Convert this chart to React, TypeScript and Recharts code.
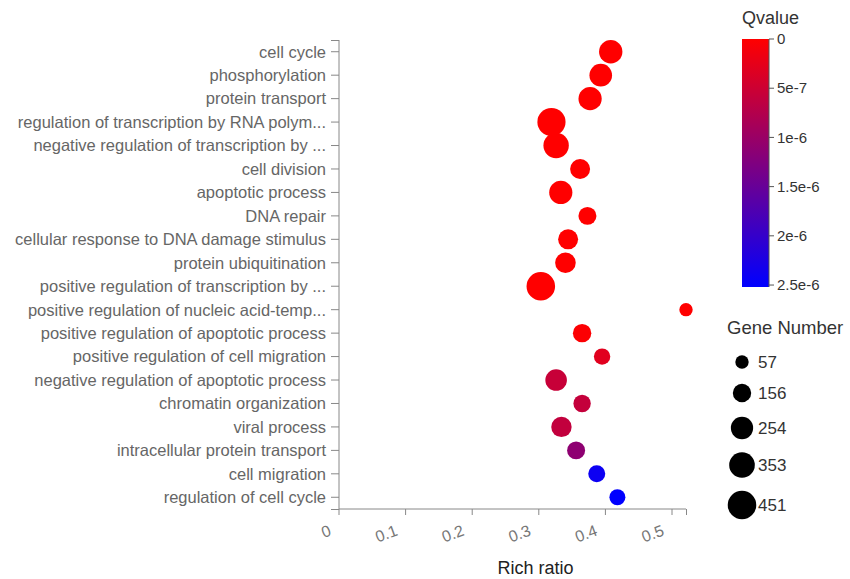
import React from 'react';
import { ScatterChart, Scatter, XAxis, YAxis, ZAxis, Cell } from 'recharts';

// GO terms, top to bottom as drawn
const terms = [
  'cell cycle',
  'phosphorylation',
  'protein transport',
  'regulation of transcription by RNA polym...',
  'negative regulation of transcription by ...',
  'cell division',
  'apoptotic process',
  'DNA repair',
  'cellular response to DNA damage stimulus',
  'protein ubiquitination',
  'positive regulation of transcription by ...',
  'positive regulation of nucleic acid-temp...',
  'positive regulation of apoptotic process',
  'positive regulation of cell migration',
  'negative regulation of apoptotic process',
  'chromatin organization',
  'viral process',
  'intracellular protein transport',
  'cell migration',
  'regulation of cell cycle',
];

const richRatio = [
  0.408, 0.393, 0.377, 0.319, 0.326, 0.362, 0.333, 0.373, 0.344, 0.34,
  0.303, 0.521, 0.365, 0.395, 0.326, 0.365, 0.334, 0.356, 0.387, 0.418,
];

const geneNumber = [
  285, 263, 281, 438, 346, 194, 280, 147, 194, 209,
  451, 57, 156, 113, 235, 134, 204, 147, 125, 105,
];

const qValue = [
  0, 0, 0, 0, 0, 0, 0, 0, 0, 0,
  0, 0, 0.03e-6, 0.3e-6, 0.55e-6, 0.58e-6, 0.6e-6, 1.12e-6, 2.4e-6, 2.52e-6,
];

const xTicks = [0, 0.1, 0.2, 0.3, 0.4, 0.5];
const qTicks = [0, 5e-7, 1e-6, 1.5e-6, 2e-6, 2.5e-6];
const qTickLabels = ['0', '5e-7', '1e-6', '1.5e-6', '2e-6', '2.5e-6'];
const geneLegend = [57, 156, 254, 353, 451];

const FONT = '"Liberation Sans", Arial, sans-serif';
const SIZE_RANGE: [number, number] = [140, 640];
const Q_MAX = Math.max(...qValue);
const G_MIN = Math.min(...geneNumber);
const G_MAX = Math.max(...geneNumber);

const W = 850;
const H = 579;
const MARGIN = { top: 40, right: 164, bottom: 0, left: 0 };
const Y_AXIS_W = 339;
const X_AXIS_H = 70;

const data = terms.map((term, i) => ({
  term,
  ratio: richRatio[i],
  genes: geneNumber[i],
  q: qValue[i],
}));

// red -> blue, same as the colour bar
const qColor = (q: number) => {
  const t = Math.min(1, Math.max(0, q / Q_MAX));
  return `rgb(${Math.round(255 * (1 - t))},0,${Math.round(255 * t)})`;
};

const geneRadius = (g: number) => {
  const area = SIZE_RANGE[0] + ((g - G_MIN) / (G_MAX - G_MIN)) * (SIZE_RANGE[1] - SIZE_RANGE[0]);
  return Math.sqrt(area / Math.PI);
};

const XTick = (props: any) => {
  const { x, y, payload } = props;
  return (
    <text
      transform={`translate(${x - 7}, ${y + 18}) rotate(-20)`}
      textAnchor="end"
      fill="#777"
      fontSize={16}
      fontFamily={FONT}
    >
      {payload.value}
    </text>
  );
};

const XLabel = (props: any) => {
  const vb = props.viewBox;
  return (
    <text x={vb.x + vb.width / 2 + 23} y={574} textAnchor="middle" fill="#222" fontSize={18} fontFamily={FONT}>
      Rich ratio
    </text>
  );
};

const Legends = () => {
  const barX = 742;
  const barY = 39;
  const barW = 27;
  const barH = 248;
  const sizeY = [362, 393, 428, 465, 505];
  // plot box, for the d3-style outer ticks
  const left = MARGIN.left + Y_AXIS_W;
  const top = MARGIN.top;
  const bottom = H - MARGIN.bottom - X_AXIS_H;
  const right = W - MARGIN.right;
  return (
    <svg width={W} height={H} style={{ position: 'absolute', left: 0, top: 0, pointerEvents: 'none' }}>
      <defs>
        <linearGradient id="qgrad" x1="0" y1="0" x2="0" y2="1">
          <stop offset="0%" stopColor="rgb(255,0,0)" />
          <stop offset="100%" stopColor="rgb(0,0,255)" />
        </linearGradient>
      </defs>
      <g stroke="#888">
        <line x1={left - 8} y1={top + 0.5} x2={left} y2={top + 0.5} />
        <line x1={left - 8} y1={bottom + 0.5} x2={left} y2={bottom + 0.5} />
        <line x1={right + 0.5} y1={bottom} x2={right + 0.5} y2={bottom + 6} />
      </g>
      <text x={742} y={24} fill="#333" fontSize={18} fontFamily={FONT}>Qvalue</text>
      <rect x={barX} y={barY} width={barW} height={barH} fill="url(#qgrad)" />
      <line x1={barX + barW} y1={barY} x2={barX + barW} y2={barY + barH} stroke="#555" />
      {qTicks.map((q, i) => {
        const ty = barY + (q / Q_MAX) * barH;
        return (
          <g key={i}>
            <line x1={barX + barW} y1={ty} x2={barX + barW + 5} y2={ty} stroke="#555" />
            <text x={barX + barW + 8} y={ty} dy="0.35em" fill="#333" fontSize={15} fontFamily={FONT}>
              {qTickLabels[i]}
            </text>
          </g>
        );
      })}
      <text x={727} y={334} fill="#333" fontSize={18.5} fontFamily={FONT}>Gene Number</text>
      {geneLegend.map((g, i) => (
        <g key={g}>
          <circle cx={742} cy={sizeY[i]} r={geneRadius(g)} fill="#000" />
          <text x={758} y={sizeY[i]} dy="0.35em" fill="#333" fontSize={17} fontFamily={FONT}>
            {g}
          </text>
        </g>
      ))}
    </svg>
  );
};

export default function App() {
  return (
    <div style={{ position: 'absolute', left: 0, top: 0, width: W, height: H, background: '#fff' }}>
      <ScatterChart width={W} height={H} margin={MARGIN}>
        <XAxis
          type="number"
          dataKey="ratio"
          domain={[0, 'dataMax']}
          ticks={xTicks}
          tick={<XTick />}
          tickSize={6}
          stroke="#888"
          height={X_AXIS_H}
          label={<XLabel />}
        />
        <YAxis
          type="category"
          dataKey="term"
          width={Y_AXIS_W}
          interval={0}
          reversed
          tickSize={8}
          tickMargin={5}
          stroke="#888"
          tick={{ fill: '#666', fontSize: 16.5, fontFamily: FONT }}
        />
        <ZAxis type="number" dataKey="genes" range={SIZE_RANGE} domain={['dataMin', 'dataMax']} />
        <Scatter data={data} shape="circle" isAnimationActive={false}>
          {data.map((d, i) => (
            <Cell key={i} fill={qColor(d.q)} />
          ))}
        </Scatter>
      </ScatterChart>
      <Legends />
    </div>
  );
}
